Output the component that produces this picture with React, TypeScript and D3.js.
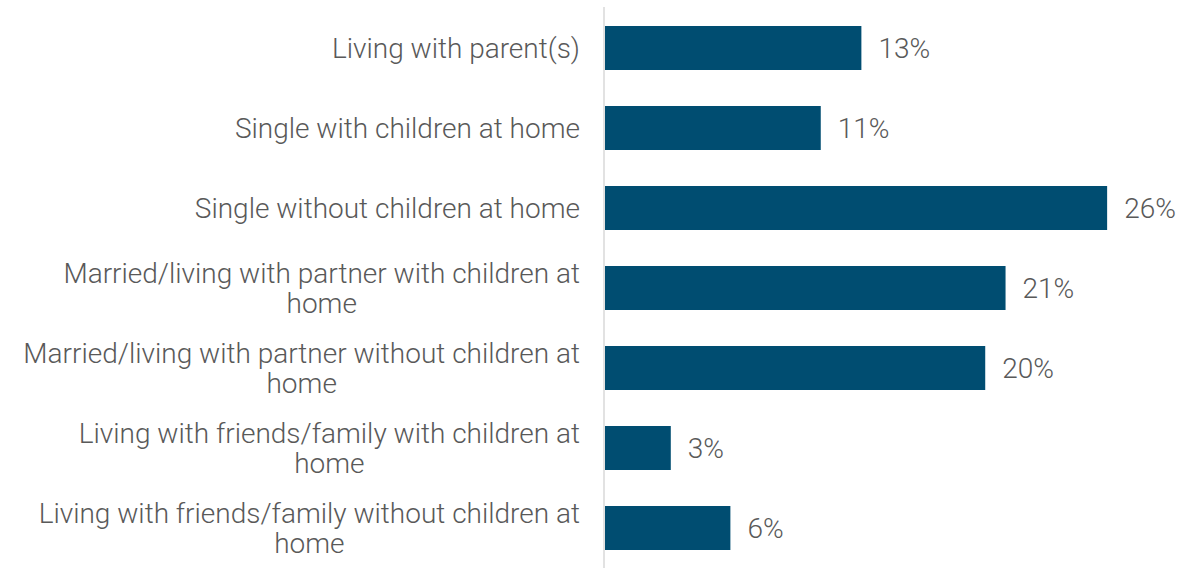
import React from "react";
import * as d3 from "d3";

const categories = [
  "Living with parent(s)",
  "Single with children at home",
  "Single without children at home",
  "Married/living with partner with children at home",
  "Married/living with partner without children at home",
  "Living with friends/family with children at home",
  "Living with friends/family without children at home",
];
const values = [13.25, 11.15, 25.95, 20.7, 19.65, 3.4, 6.48];

const W = 1193;
const H = 568;
const FONT = "Roboto, 'Noto Sans', sans-serif";
const FONT_SIZE = 28;
const FONT_WEIGHT = 300;
const LINE_H = 30;
const LABEL_MAX = 565;
const LABEL_RIGHT = 580;

let ctx: CanvasRenderingContext2D | null = null;
function measure(t: string): number {
  if (!ctx) {
    const c = document.createElement("canvas");
    ctx = c.getContext("2d");
  }
  if (!ctx) return t.length * 12;
  ctx.font = `${FONT_WEIGHT} ${FONT_SIZE}px Roboto`;
  return ctx.measureText(t).width;
}
function wrap(t: string): string[] {
  const words = t.split(" ");
  const lines: string[] = [];
  let cur = "";
  for (const w of words) {
    const next = cur ? cur + " " + w : w;
    if (cur && measure(next) > LABEL_MAX) {
      lines.push(cur);
      cur = w;
    } else cur = next;
  }
  if (cur) lines.push(cur);
  return lines;
}

export default function App() {
  const x0 = 605;
  const x = d3.scaleLinear().domain([0, 30]).range([x0, x0 + 30 * 19.35]);
  const y = d3
    .scaleBand<string>()
    .domain(categories)
    .range([8, H])
    .paddingInner(0.45)
    .paddingOuter(0.225);
  return (
    <svg
      width={W}
      height={H}
      style={{ position: "absolute", left: 0, top: 0, background: "#fff" }}
      fontFamily={FONT}
    >
      {categories.map((c, i) => {
        const cy = (y(c) as number) + y.bandwidth() / 2;
        const lines = wrap(c);
        const off = -((lines.length - 1) * LINE_H) / 2;
        const blockW = Math.max(...lines.map(measure));
        const multi = lines.length > 1;
        return (
          <g key={c}>
            <rect
              x={x(0)}
              y={y(c)}
              width={x(values[i]) - x(0)}
              height={y.bandwidth()}
              fill="#004D71"
            />
            <text
              x={x(values[i]) + 17}
              y={cy}
              dy="0.35em"
              fontSize={FONT_SIZE}
              fontWeight={FONT_WEIGHT}
              fill="#595959"
            >
              {Math.round(values[i]) + "%"}
            </text>
            {lines.map((l, j) => (
              <text
                key={j}
                x={multi ? LABEL_RIGHT - blockW / 2 : LABEL_RIGHT}
                y={cy + off + j * LINE_H}
                dy="0.35em"
                textAnchor={multi ? "middle" : "end"}
                fontSize={FONT_SIZE}
                fontWeight={FONT_WEIGHT}
                fill="#595959"
              >
                {l}
              </text>
            ))}
          </g>
        );
      })}
      <line x1={604} x2={604} y1={7} y2={H} stroke="#d9d9d9" strokeWidth={1.5} />
    </svg>
  );
}
